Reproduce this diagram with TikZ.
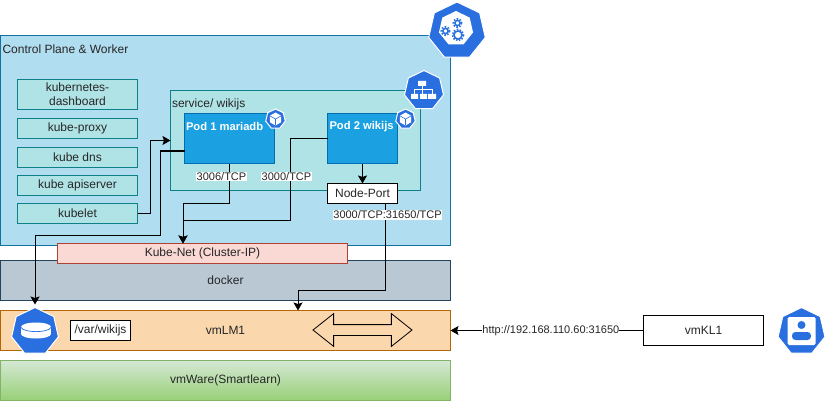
\documentclass[tikz,border=0pt]{standalone}
\usepackage{fontspec}
\setmainfont{Liberation Sans}
\usetikzlibrary{arrows.meta,shapes.geometric,shapes.arrows}

\definecolor{kubeblue}{HTML}{2A6FE0}
\definecolor{ctrlfill}{HTML}{B1DDF0}
\definecolor{ctrldraw}{HTML}{10739E}
\definecolor{tealfill}{HTML}{B0E3E6}
\definecolor{tealdraw}{HTML}{0E8088}
\definecolor{podfill}{HTML}{1BA1E2}
\definecolor{poddraw}{HTML}{006EAF}
\definecolor{netfill}{HTML}{FAD9D5}
\definecolor{netdraw}{HTML}{AE4132}
\definecolor{dockfill}{HTML}{BAC8D3}
\definecolor{dockdraw}{HTML}{23445D}
\definecolor{vmfill}{HTML}{FAD7AC}
\definecolor{vmdraw}{HTML}{B46504}
\definecolor{waretop}{HTML}{D5E8D4}
\definecolor{warebot}{HTML}{97D077}
\definecolor{waredraw}{HTML}{82B366}

\tikzset{
  every node/.style={font=\fontsize{12}{14}\selectfont, text=black!85, inner sep=0, outer sep=0},
  block/.style={draw, line width=1, minimum width=#1},
  block/.default=120,
  teal box/.style={block, fill=tealfill, draw=tealdraw},
  pod box/.style={block=#1, fill=podfill, draw=poddraw, minimum height=50},
  plain box/.style={block=#1, fill=white, draw=black},
  caption/.style={anchor=west},
  pod caption/.style={anchor=west, text=white, font=\fontsize{11.2}{14}\selectfont\bfseries},
  port label/.style={fill=white, font=\fontsize{11}{13}\selectfont, inner xsep=0.5, inner ysep=0.5},
  conn/.style={line width=1, -{Stealth[length=8,width=9,inset=1.5]}},
  kube icon/.style={regular polygon, regular polygon sides=7, fill=kubeblue, draw=white, line width=1, minimum size=#1},
  icon hole/.style={regular polygon, regular polygon sides=7, fill=white, minimum size=#1},
  pod icon/.style={regular polygon, regular polygon sides=6, fill=white, minimum size=#1},
}

\newcommand{\kubegear}[3]{%
  \draw[kubeblue, line width=1.5] (#1,#2) circle (#3);
  \draw[kubeblue, line width=1.8, dash pattern=on 1.5 off 1.5] (#1,#2) circle (#3+1.5);
}

\begin{document}
\begin{tikzpicture}[x=1pt, y=-1pt]
\useasboundingbox (0,0) rectangle (827,401);

% layers
\node[block=450, minimum height=210, fill=ctrlfill, draw=ctrldraw] (ctrl) at (225.5,140.5) {};
\node[block=450, minimum height=40, fill=dockfill, draw=dockdraw] (docker) at (225.5,280.5) {docker};
\node[block=290, minimum height=20, fill=netfill, draw=netdraw] (kubenet) at (202.5,253.5) {Kube-Net (Cluster-IP)};
\node[block=450, minimum height=40, fill=vmfill, draw=vmdraw] (vmlm) at (225.5,330.5) {vmLM1};
\node[block=450, minimum height=40, top color=waretop, bottom color=warebot, draw=waredraw] (vmware) at (225.5,380.5) {vmWare(Smartlearn)};
\node[caption] (ctrltext) at (2.5,49) {Control Plane \& Worker};

% system pods
\node[teal box, minimum height=30, align=center] (dashboard) at (77.5,94.5) {kubernetes-\\dashboard};
\node[teal box, minimum height=20] (proxy) at (77.5,128.5) {kube-proxy};
\node[teal box, minimum height=20] (dns) at (77.5,157.5) {kube dns};
\node[teal box, minimum height=20] (apiserver) at (77.5,185.5) {kube apiserver};
\node[teal box, minimum height=20] (kubelet) at (77.5,213.5) {kubelet};

% service
\node[block=250, minimum height=100, fill=tealfill, draw=tealdraw] (service) at (295.5,140.5) {};
\node[caption] (servicetext) at (172,104.5) {service/ wikijs};
\node[pod box=90] (pod1) at (229.5,138.5) {};
\node[pod box=70] (pod2) at (362.5,138.5) {};
\node[pod caption] (pod1text) at (186,126.5) {Pod 1 mariadb};
\node[pod caption] (pod2text) at (329.5,126.5) {Pod 2 wikijs};
\node[plain box=70, minimum height=20] (nodeport) at (362.5,193.5) {Node-Port};

% host
\node[plain box=60, minimum height=20] (varwiki) at (100.5,330.5) {/var/wikijs};
\node[double arrow, draw=black, line width=0.8, inner ysep=5, minimum width=32, minimum height=99, double arrow head extend=11, double arrow tip angle=77] (transfer) at (362.5,330) {};
\node[plain box=120, minimum height=30] (vmkl) at (703.5,330.5) {vmKL1};

% icons
\node[kube icon=58] (ctrlicon) at (457,31) {};
\node[icon hole=35] (ctrlhole) at (456,28.5) {};
\kubegear{458}{35}{4}
\kubegear{445.5}{31}{2.6}
\kubegear{457.5}{23}{2.6}

\node[kube icon=40] (serviceicon) at (424,90.5) {};
\fill[white] (418,81) rectangle (426,86) (411,94) rectangle (418,99) (420,94) rectangle (427,99) (428,94) rectangle (436,99);
\draw[white, line width=1] (422,86) -- (422,94) (414.5,94) -- (414.5,90) -- (432,90) -- (432,94);

\node[kube icon=20] (pod1icon) at (275.5,119) {};
\node[pod icon=13, rotate=30] (pod1cube) at (275.5,119) {};
\draw[kubeblue, line width=0.6] (pod1cube.center) -- ++(0,6) (pod1cube.center) -- ++(-5.5,-3) (pod1cube.center) -- ++(5.5,-3);

\node[kube icon=20] (pod2icon) at (405.5,119) {};
\node[pod icon=13, rotate=30] (pod2cube) at (405.5,119) {};
\draw[kubeblue, line width=0.6] (pod2cube.center) -- ++(0,6) (pod2cube.center) -- ++(-5.5,-3) (pod2cube.center) -- ++(5.5,-3);

\node[kube icon=48] (storage) at (35,331.5) {};
\fill[white] (21,327) rectangle (51,334);
\fill[white] (36,327) ellipse[x radius=15, y radius=4.5];
\fill[white] (36,334) ellipse[x radius=15, y radius=4.5];
\draw[kubeblue, line width=0.7] (21,327.5) .. controls (24,333) and (48,333) .. (51,327.5);

\node[kube icon=48] (usericon) at (801.5,331.5) {};
\fill[white, rounded corners=1.5] (787.5,317) rectangle (815.5,345);
\fill[kubeblue] (801.5,325) circle (4);
\fill[kubeblue, rounded corners=3.5] (792,340) -- (792,332) -- (811,332) -- (811,340) -- cycle;

% connectors
\draw[conn] (kubelet.east) -- ++(13,0) |- (service.west);
\draw[conn] ([yshift=-12.5]pod1.west) -- (160.5,151) -- (160.5,235.5) -| ([yshift=3]storage.north);
\draw[conn] (pod1.south) |- (183,203.5) -- ([xshift=-19.5]kubenet.north);
\draw[conn] (pod2.west) -| (290.5,220) -| ([xshift=-19.5]kubenet.north);
\draw[conn] (pod2.south) -- (nodeport.north);
\draw[conn] ([xshift=23]nodeport.south) -- ++(0,87) -| ([xshift=72.5]vmlm.north);
\draw[conn] (vmkl.west) -- node[fill=white, font=\fontsize{11}{13}\selectfont, pos=0.48] (httplabel) {http://192.168.110.60:31650} (vmlm.east);

\node[port label] (port3006) at (221.5,176.5) {3006/TCP};
\node[port label] (port3000) at (286.5,176.5) {3000/TCP};
\node[port label] (port31650) at (387.5,215) {3000/TCP:31650/TCP};
\end{tikzpicture}
\end{document}
